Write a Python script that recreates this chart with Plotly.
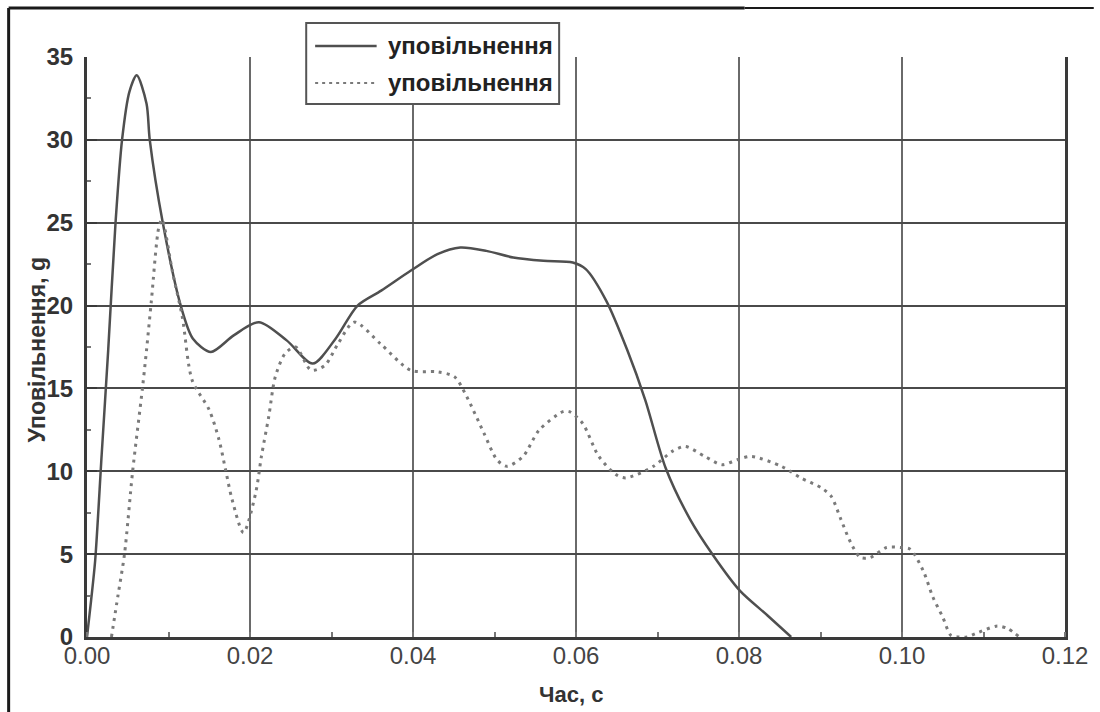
import plotly.graph_objects as go

# ---------------- data ----------------
time_solid = [0.0, 0.0005, 0.001, 0.0018, 0.0026, 0.0035, 0.0043, 0.0052, 0.0061,
              0.0073, 0.0077, 0.0093, 0.0115, 0.013, 0.0152, 0.018, 0.0211, 0.0245,
              0.0277, 0.0305, 0.0332, 0.0361, 0.0397, 0.043, 0.0458, 0.049, 0.0523,
              0.056, 0.0596, 0.0612, 0.0637, 0.0663, 0.0685, 0.071, 0.074, 0.0768,
              0.0801, 0.0835, 0.0864]
decel_solid = [0.0, 2.2, 4.6, 11.0, 17.3, 25.0, 30.0, 32.9, 33.9,
               32.2, 30.0, 25.0, 20.0, 18.0, 17.2, 18.2, 19.0, 17.9,
               16.5, 18.0, 20.0, 20.9, 22.1, 23.1, 23.5, 23.3, 22.9,
               22.7, 22.6, 22.2, 20.3, 17.3, 14.3, 10.2, 7.1, 4.95,
               2.8, 1.3, 0.0]

time_dotted = [0.003, 0.0038, 0.0046, 0.0056, 0.0068, 0.0073, 0.0079, 0.0088, 0.0092,
               0.0105, 0.0117, 0.0129, 0.015, 0.0162, 0.017, 0.0178, 0.0192, 0.0207,
               0.0214, 0.0223, 0.0231, 0.0243, 0.0256, 0.0275, 0.0292, 0.0308, 0.0328,
               0.036, 0.0397, 0.043, 0.0451, 0.0466, 0.0487, 0.0503, 0.0515, 0.0535,
               0.0555, 0.0584, 0.0592, 0.0608, 0.0628, 0.0649, 0.0661, 0.0695, 0.0718,
               0.0734, 0.0758, 0.0779, 0.0798, 0.0815, 0.0852, 0.0876, 0.0901, 0.0913,
               0.0925, 0.0937, 0.0949, 0.0961, 0.0981, 0.0998, 0.101, 0.1026, 0.1038,
               0.105, 0.106, 0.107, 0.108, 0.109, 0.1117, 0.113, 0.1144]
decel_dotted = [0.0, 2.5, 5.0, 10.0, 15.0, 17.3, 20.3, 24.7, 25.2,
                22.0, 19.3, 15.5, 13.7, 11.9, 10.1, 8.3, 6.3, 8.7,
                10.9, 13.3, 15.7, 17.1, 17.5, 16.1, 16.4, 17.7, 19.0,
                17.7, 16.1, 16.0, 15.7, 14.5, 12.3, 10.7, 10.3, 10.9,
                12.5, 13.6, 13.6, 12.9, 10.9, 9.8, 9.6, 10.3, 11.2,
                11.5, 10.9, 10.4, 10.7, 10.9, 10.3, 9.6, 9.0, 8.5,
                7.1, 5.7, 4.8, 4.8, 5.4, 5.4, 5.3, 4.0, 2.4,
                1.2, 0.1, 0.0, 0.0, 0.2, 0.66, 0.5, 0.0]

series_names = ["уповільнення", "уповільнення"]
x_tick_vals = [0.00, 0.02, 0.04, 0.06, 0.08, 0.10, 0.12]
x_tick_text = ["0.00", "0.02", "0.04", "0.06", "0.08", "0.10", "0.12"]
y_tick_vals = [0, 5, 10, 15, 20, 25, 30, 35]
y_tick_text = ["0", "5", "10", "15", "20", "25", "30", "35"]
x_title = "Час, с"
y_title = "Уповільнення, g"

# ---------------- layout geometry ----------------
W, H = 1100, 712
ML, MR, MT, MB = 87, 27, 57, 75
PW, PH = W - ML - MR, H - MT - MB


def fx(px):
    return (px - ML) / PW


def fy(py):
    return (H - MB - py) / PH


SOLID_COLOR = "#4f4f4f"
DOT_COLOR = "#7a7a7a"

fig = go.Figure()
fig.add_trace(go.Scatter(
    x=time_solid, y=decel_solid, mode="lines", name=series_names[0],
    line=dict(color=SOLID_COLOR, width=2.5, shape="spline", smoothing=0.8),
    showlegend=False))
fig.add_trace(go.Scatter(
    x=time_dotted, y=decel_dotted, mode="lines", name=series_names[1],
    line=dict(color=DOT_COLOR, width=3, dash="3px,5px", shape="spline", smoothing=0.8),
    showlegend=False))

shapes = [
    # outer frame of the scanned figure
    dict(type="line", xref="paper", yref="paper", x0=fx(8), x1=fx(8), y0=fy(8), y1=fy(715),
         line=dict(color="#1a1a1a", width=3), layer="above"),
    dict(type="line", xref="paper", yref="paper", x0=fx(8), x1=fx(750), y0=fy(8), y1=fy(8),
         line=dict(color="#1a1a1a", width=3), layer="above"),
    dict(type="line", xref="paper", yref="paper", x0=fx(750), x1=fx(1102), y0=fy(8), y1=fy(8),
         line=dict(color="#1a1a1a", width=2), layer="above"),
    # legend box
    dict(type="rect", xref="paper", yref="paper", x0=fx(308), x1=fx(563), y0=fy(104), y1=fy(23),
         fillcolor="white", line=dict(color="#555555", width=2), layer="above"),
    dict(type="line", xref="paper", yref="paper", x0=fx(317), x1=fx(379), y0=fy(46), y1=fy(46),
         line=dict(color=SOLID_COLOR, width=2.5), layer="above"),
    dict(type="line", xref="paper", yref="paper", x0=fx(317), x1=fx(379), y0=fy(83), y1=fy(83),
         line=dict(color=DOT_COLOR, width=2, dash="3px,4px"), layer="above"),
]

annotations = [
    dict(text=series_names[0], xref="paper", yref="paper", x=fx(388), y=fy(46),
         xanchor="left", yanchor="middle", showarrow=False,
         font=dict(family="Liberation Sans, Arial", size=24, color="#222222", weight="bold")),
    dict(text=series_names[1], xref="paper", yref="paper", x=fx(388), y=fy(83),
         xanchor="left", yanchor="middle", showarrow=False,
         font=dict(family="Liberation Sans, Arial", size=24, color="#222222", weight="bold")),
    dict(text=y_title, xref="paper", yref="paper", x=fx(37), y=fy(350), textangle=-90,
         xanchor="center", yanchor="middle", showarrow=False,
         font=dict(family="Liberation Sans, Arial", size=23, color="#333333", weight="bold")),
    dict(text=x_title, xref="paper", yref="paper", x=fx(575), y=fy(694),
         xanchor="center", yanchor="middle", showarrow=False,
         font=dict(family="Liberation Sans, Arial", size=22, color="#333333", weight="bold")),
]

fig.update_layout(
    width=W, height=H,
    margin=dict(l=ML, r=MR, t=MT, b=MB, pad=0),
    paper_bgcolor="white", plot_bgcolor="white",
    showlegend=False,
    shapes=shapes, annotations=annotations,
    xaxis=dict(
        range=[0, 0.12], tickmode="array", tickvals=x_tick_vals, ticktext=x_tick_text,
        showgrid=True, gridcolor="#6a6a6a", gridwidth=2,
        showline=True, linecolor="#3a3a3a", linewidth=3, mirror=False,
        zeroline=False, ticks="", ticklen=0, ticklabelstandoff=-5,
        minor=dict(tick0=0, dtick=0.01, ticks="inside", ticklen=5, tickcolor="#777777",
                   tickwidth=1.5, showgrid=False),
        tickfont=dict(family="Liberation Sans Narrow, Liberation Sans, Arial", size=24, color="#444444"),
    ),
    yaxis=dict(
        range=[0, 35], tickmode="array", tickvals=y_tick_vals, ticktext=y_tick_text,
        showgrid=True, gridcolor="#4a4a4a", gridwidth=2,
        showline=True, linecolor="#3a3a3a", linewidth=3, mirror=True,
        zeroline=False, ticks="inside", ticklen=10, tickcolor="#3a3a3a", tickwidth=2,
        ticklabelstandoff=6,
        minor=dict(tick0=0, dtick=2.5, ticks="inside", ticklen=4, tickcolor="#777777",
                   tickwidth=1.5, showgrid=False),
        tickfont=dict(family="Liberation Sans, Arial", size=24, color="#333333", weight="bold"),
    ),
)

fig.write_html("out.html")
